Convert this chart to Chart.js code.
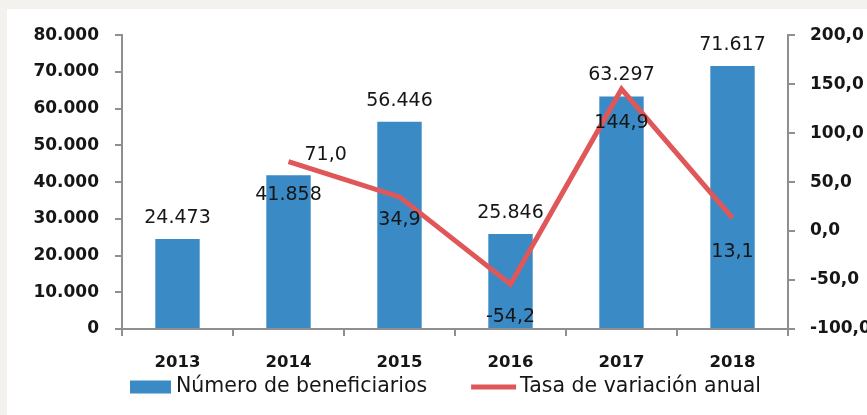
<!DOCTYPE html>
<html>
<head>
<meta charset="utf-8">
<script src="https://cdn.jsdelivr.net/npm/chart.js@4"></script>
<style>
  html, body { margin: 0; padding: 0; background: #f4f2ee; }
  #panel { position: absolute; left: 7px; top: 9px; width: 860px; height: 406px; background: #fff; }
</style>
</head>
<body>
<div id="panel"><canvas id="chart" width="860" height="406"></canvas></div>
<script>
const years = ['2013', '2014', '2015', '2016', '2017', '2018']
const beneficiarios = [24473, 41858, 56446, 25846, 63297, 71617]
const tasaVariacion = [null, 71.0, 34.9, -54.2, 144.9, 13.1]

// label nudges: bar labels sit this far above the bar top (2014 sits inside, clear of the line),
// rate labels this far below their point (2014 goes to the right instead)
const barLabelRise = [21, -20, 21, 21, 21, 21]
const rateLabelDrop = [0, 0, 23, 33, 34, 34]

const AXIS = '#8f8f8f'
const INK = '#161616'
const FONT = '"DejaVu Sans", sans-serif'

// 41858 -> "41.858"
const miles = v => String(Math.round(v)).replace(/\B(?=(\d{3})+(?!\d))/g, '.')
const decimal = v => v.toFixed(1).replace('.', ',')

// value labels over the bars and under the line points
const valueLabels = {
  id: 'valueLabels',
  afterDatasetsDraw(chart) {
    const ctx = chart.ctx
    ctx.save()
    ctx.fillStyle = INK
    ctx.font = '19px ' + FONT
    ctx.textBaseline = 'middle'
    ctx.textAlign = 'center'
    chart.getDatasetMeta(0).data.forEach((bar, i) => {
      ctx.fillText(miles(beneficiarios[i]), bar.x, bar.y - barLabelRise[i])
    })
    chart.getDatasetMeta(1).data.forEach((pt, i) => {
      const v = tasaVariacion[i]
      if (v == null) return
      if (i == 1) {
        ctx.textAlign = 'left'
        ctx.fillText(decimal(v), pt.x + 16, pt.y - 6)
        ctx.textAlign = 'center'
      } else {
        ctx.fillText(decimal(v), pt.x, pt.y + rateLabelDrop[i])
      }
    })
    ctx.restore()
  }
}

// one-row legend under the axis: swatch, small gap, text, wide gap, next item
const rowLegend = {
  id: 'rowLegend',
  afterDraw(chart) {
    const ctx = chart.ctx
    const [bars, line] = chart.data.datasets
    const y = chart.chartArea.bottom + 58
    let x = 123
    ctx.save()
    ctx.font = '20.5px ' + FONT
    ctx.textBaseline = 'middle'

    ctx.fillStyle = bars.backgroundColor
    ctx.fillRect(x, y - 6.5, 41, 13)
    x += 46
    ctx.fillStyle = INK
    ctx.fillText(bars.label, x, y)
    x += ctx.measureText(bars.label).width + 44

    ctx.strokeStyle = line.borderColor
    ctx.lineWidth = line.borderWidth
    ctx.beginPath()
    ctx.moveTo(x, y)
    ctx.lineTo(x + 45, y)
    ctx.stroke()
    x += 49
    ctx.fillText(line.label, x, y)
    ctx.restore()
  }
}

const axisGrid = { drawOnChartArea: false, color: AXIS, lineWidth: 2, tickLength: 7 }
const axisBorder = { color: AXIS, width: 2 }

new Chart(document.getElementById('chart'), {
  data: {
    labels: years,
    datasets: [
      {
        type: 'bar',
        label: 'Número de beneficiarios',
        data: beneficiarios,
        backgroundColor: '#3a8ac6',
        barPercentage: 0.4,
        categoryPercentage: 1,
        yAxisID: 'y',
        order: 1
      },
      {
        type: 'line',
        label: 'Tasa de variación anual',
        data: tasaVariacion,
        borderColor: '#e0575a',
        backgroundColor: '#e0575a',
        borderWidth: 5,
        borderJoinStyle: 'miter',
        pointRadius: 0,
        tension: 0,
        yAxisID: 'y1',
        order: 0
      }
    ]
  },
  options: {
    responsive: false,
    animation: false,
    layout: { padding: { top: 25, bottom: 46, left: 0, right: 0 } },
    scales: {
      x: {
        grid: { ...axisGrid, offset: true },
        border: axisBorder,
        ticks: { color: INK, font: { family: FONT, size: 16.5, weight: 'bold' }, padding: 17 },
        afterFit: s => { s.height = 40 }
      },
      y: {
        position: 'left',
        min: 0, max: 80000,
        grid: axisGrid,
        border: axisBorder,
        ticks: { stepSize: 10000, color: INK, font: { family: FONT, size: 17, weight: 'bold' }, padding: 16, callback: miles },
        afterFit: s => { s.width = 115 }
      },
      y1: {
        position: 'right',
        min: -100, max: 200,
        grid: axisGrid,
        border: axisBorder,
        ticks: { stepSize: 50, color: INK, font: { family: FONT, size: 17, weight: 'bold' }, padding: 15, callback: decimal },
        afterFit: s => { s.width = 79 }
      }
    },
    plugins: {
      tooltip: { enabled: false },
      legend: { display: false }
    }
  },
  plugins: [valueLabels, rowLegend]
})
</script>
</body>
</html>
